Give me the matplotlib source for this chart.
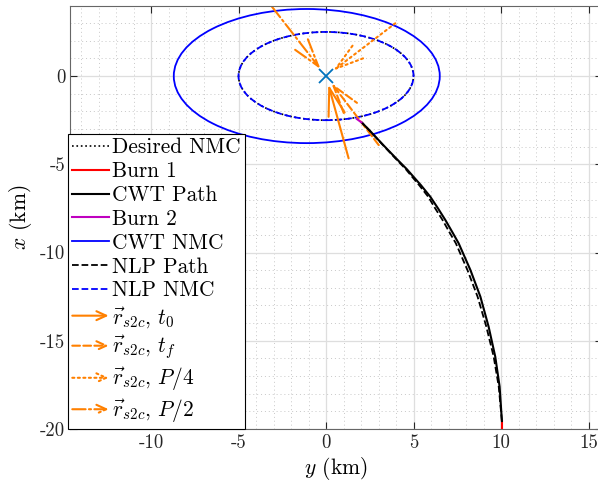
import matplotlib
matplotlib.use('Agg')
import matplotlib.pyplot as plt
from matplotlib.patches import Ellipse, FancyArrowPatch, ArrowStyle
from matplotlib.lines import Line2D
from matplotlib.legend_handler import HandlerBase
from matplotlib.ticker import MultipleLocator, FixedLocator

plt.rcParams['font.family'] = 'serif'
plt.rcParams['font.serif'] = ['cmr10']
plt.rcParams['mathtext.fontset'] = 'cm'
plt.rcParams['axes.unicode_minus'] = False

# --- data (y = along-track, x = radial, km) ---
burn1_y = [10.05, 10.05]
burn1_x = [-20.0, -19.55]

cwt_y = [10.05, 9.92, 9.67, 9.29, 8.82, 8.25, 7.58, 7.25, 6.82, 6.40, 5.96, 5.42, 5.00, 4.62, 4.00, 3.30, 2.43, 2.06]
cwt_x = [-19.55, -17.6, -15.9, -14.2, -12.5, -10.99, -9.48, -8.9, -8.16, -7.50, -6.84, -6.18, -5.71, -5.28, -4.66, -3.94, -3.02, -2.65]

burn2_y = [2.06, 1.77]
burn2_x = [-2.65, -2.44]

nlp_y = [10.05, 9.87, 9.58, 9.16, 8.66, 8.08, 7.42, 7.08, 6.66, 6.24, 5.84, 5.32, 4.92, 4.56, 3.96, 3.28, 2.42, 2.06]
nlp_x = [-19.55, -17.6, -15.9, -14.2, -12.5, -10.99, -9.48, -8.9, -8.16, -7.50, -6.84, -6.18, -5.71, -5.28, -4.66, -3.94, -3.02, -2.65]

# NMC ellipses: center (y, x), semi-axes (y, x)
desired_nmc = dict(center=(0.0, 0.0), semi=(5.0, 2.5))
cwt_nmc = dict(center=(-1.1, 0.0), semi=(7.6, 3.8))
nlp_nmc = dict(center=(0.0, 0.0), semi=(5.0, 2.5))

# r_s2c vectors: tail (y, x) -> tip (y, x)
arrow_names = ['t0', 'tf', 'P/4', 'P/2']
arrow_tail_y = [1.29, 3.01, 3.96, -3.09]
arrow_tail_x = [-4.66, -3.91, 2.99, 3.93]
arrow_tip_y = [0.13, 0.30, 0.40, -0.31]
arrow_tip_x = [-0.47, -0.39, 0.30, 0.39]
arrow_styles = ['-', '--', ':', '-.']
arrow_labels = [r'$\vec{r}_{s2c}$, $t_0$', r'$\vec{r}_{s2c}$, $t_f$',
                r'$\vec{r}_{s2c}$, $P/4$', r'$\vec{r}_{s2c}$, $P/2$']

orange = '#FF8000'


class HandlerArrow(HandlerBase):
    def create_artists(self, legend, orig_handle, xdescent, ydescent,
                       width, height, fontsize, trans):
        y = height / 2 - ydescent
        a = FancyArrowPatch((-xdescent, y), (-xdescent + width, y),
                            arrowstyle=ArrowStyle('->', head_length=7, head_width=3.2),
                            mutation_scale=1, color=orig_handle.get_color(),
                            lw=1.5, linestyle=orig_handle.get_linestyle(),
                            shrinkA=0, shrinkB=0, transform=trans)
        return [a]


fig = plt.figure(figsize=(5.98, 4.84), dpi=100)
ax = fig.add_axes([70 / 598, 55 / 484, 532 / 598, 423 / 484])

ax.set_xlim(-14.63, -14.63 + 532 / 17.5)
ax.set_ylim(-20, 3.97)

ax.xaxis.set_major_locator(FixedLocator([-10, -5, 0, 5, 10, 15]))
ax.yaxis.set_major_locator(FixedLocator([-20, -15, -10, -5, 0]))
ax.xaxis.set_minor_locator(MultipleLocator(1))
ax.yaxis.set_minor_locator(MultipleLocator(1))
ax.grid(which='major', color='#dedede', lw=0.9, ls='-')
ax.grid(which='minor', color='#c8c8c8', lw=0.7, ls=(0, (1, 3)))
ax.set_axisbelow(True)
ax.tick_params(which='major', direction='in', top=True, right=True, length=5,
               labelsize=13.5, colors='#262626', width=0.8)
ax.tick_params(which='minor', length=0)
for s in ax.spines.values():
    s.set_color('#666666')
    s.set_linewidth(0.8)

# desired NMC
e = desired_nmc
ax.add_patch(Ellipse(e['center'], 2 * e['semi'][0], 2 * e['semi'][1], fill=False,
                     edgecolor='k', lw=1.2, ls=':'))
ax.plot(burn1_y, burn1_x, color='r', lw=1.5)
ax.plot(cwt_y, cwt_x, color='k', lw=1.5)
ax.plot(burn2_y, burn2_x, color='m', lw=1.5)
e = cwt_nmc
ax.add_patch(Ellipse(e['center'], 2 * e['semi'][0], 2 * e['semi'][1], fill=False,
                     edgecolor='b', lw=1.3, ls='-'))
ax.plot(nlp_y, nlp_x, color='k', lw=1.3, ls='--')
e = nlp_nmc
ax.add_patch(Ellipse(e['center'], 2 * e['semi'][0], 2 * e['semi'][1], fill=False,
                     edgecolor='b', lw=1.3, ls='--'))

for i in range(len(arrow_names)):
    ax.add_patch(FancyArrowPatch((arrow_tail_y[i], arrow_tail_x[i]),
                                 (arrow_tip_y[i], arrow_tip_x[i]),
                                 arrowstyle=ArrowStyle('->', head_length=20, head_width=6),
                                 mutation_scale=1, color=orange, lw=1.5,
                                 linestyle=arrow_styles[i], shrinkA=0, shrinkB=0))

ax.plot([0], [0], marker='x', color='#0072BD', ms=10, mew=1.3, ls='none')

ax.set_xlabel(r'$y$ (km)', fontsize=15.5, labelpad=2)
ax.set_ylabel(r'$x$ (km)', fontsize=15.5, labelpad=4)

handles = [
    Line2D([], [], color='k', lw=1.2, ls=':'),
    Line2D([], [], color='r', lw=1.5),
    Line2D([], [], color='k', lw=1.5),
    Line2D([], [], color='m', lw=1.5),
    Line2D([], [], color='b', lw=1.3),
    Line2D([], [], color='k', lw=1.3, ls='--'),
    Line2D([], [], color='b', lw=1.3, ls='--'),
]
labels = ['Desired NMC', 'Burn 1', 'CWT Path', 'Burn 2', 'CWT NMC', 'NLP Path', 'NLP NMC']
hmap = {}
for i in range(len(arrow_names)):
    h = Line2D([], [], color=orange, ls=arrow_styles[i])
    handles.append(h)
    labels.append(arrow_labels[i])
    hmap[h] = HandlerArrow()

leg = ax.legend(handles, labels, handler_map=hmap, loc='lower left',
                bbox_to_anchor=(68 / 598, 55 / 484), bbox_transform=fig.transFigure,
                borderaxespad=0, fontsize=15.4, handlelength=1.7, handletextpad=0.15,
                labelspacing=0.2, borderpad=0.2, fancybox=False, framealpha=1,
                edgecolor='k')
leg.get_frame().set_linewidth(0.8)

fig.savefig('out.png', dpi=100)
